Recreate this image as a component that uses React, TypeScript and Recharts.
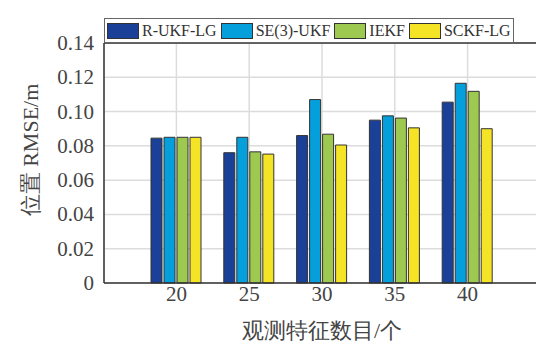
import React from "react";
import { BarChart, Bar, XAxis, YAxis, CartesianGrid, Legend, ReferenceLine } from "recharts";

const featureCounts = ["20", "25", "30", "35", "40"];
const rUkfLg = [0.0845, 0.076, 0.086, 0.095, 0.1055];
const se3Ukf = [0.085, 0.085, 0.107, 0.0975, 0.1165];
const iekf = [0.085, 0.0765, 0.0868, 0.0962, 0.1118];
const sckfLg = [0.085, 0.0752, 0.0805, 0.0905, 0.09];
const yTicks = [0, 0.02, 0.04, 0.06, 0.08, 0.1, 0.12, 0.14];

const series = [
  { key: "rukf", name: "R-UKF-LG", color: "#1b4097" },
  { key: "se3", name: "SE(3)-UKF", color: "#05a0dc" },
  { key: "iekf", name: "IEKF", color: "#9ec951" },
  { key: "sckf", name: "SCKF-LG", color: "#f5e426" },
];

const data = featureCounts.map((n, i) => ({
  n,
  rukf: rUkfLg[i],
  se3: se3Ukf[i],
  iekf: iekf[i],
  sckf: sckfLg[i],
}));

const FONT = "Liberation Serif, serif";
const TEXT = "#444";

function LegendBox() {
  return (
    <div
      style={{
        display: "flex",
        alignItems: "center",
        height: 23,
        padding: "0 0 0 2px",
        width: 406,
        background: "#fff",
        border: "1px solid #666",
        fontFamily: FONT,
        fontSize: 16,
        color: "#333",
        whiteSpace: "nowrap",
      }}
    >
      {series.map((s) => (
        <div key={s.key} style={{ display: "flex", alignItems: "center", marginRight: 4 }}>
          <span
            style={{
              display: "inline-block",
              width: 30,
              height: 14,
              background: s.color,
              border: "1px solid #333",
              marginRight: 3,
            }}
          />
          <span>{s.name}</span>
        </div>
      ))}
    </div>
  );
}

// axis tick text drawn directly so the size/font stick
function XTick({ x, y, payload }: any) {
  return (
    <text
      x={x}
      y={y + 3}
      textAnchor="middle"
      dominantBaseline="central"
      style={{ fontFamily: FONT, fontSize: 21, fill: TEXT }}
    >
      {payload.value}
    </text>
  );
}

function YTick({ x, y, payload }: any) {
  const v = payload.value as number;
  return (
    <text
      x={x - 2}
      y={y}
      textAnchor="end"
      dominantBaseline="central"
      style={{ fontFamily: FONT, fontSize: 21, fill: TEXT }}
    >
      {v === 0 ? "0" : v.toFixed(2)}
    </text>
  );
}

function YLabel() {
  return (
    <text
      x={30}
      y={150}
      transform="rotate(-90 30 150)"
      textAnchor="middle"
      dominantBaseline="central"
      style={{ fontFamily: FONT, fontSize: 22, fill: TEXT }}
    >
      位置 RMSE/m
    </text>
  );
}

function XLabel() {
  return (
    <text
      x={322}
      y={330}
      textAnchor="middle"
      dominantBaseline="central"
      style={{ fontFamily: FONT, fontSize: 22, fill: TEXT }}
    >
      观测特征数目/个
    </text>
  );
}

export default function App() {
  return (
    <div
      style={{
        position: "fixed",
        left: 0,
        top: 0,
        width: 536,
        height: 345,
        overflow: "hidden",
        background: "#fff",
        fontFamily: FONT,
      }}
    >
      <BarChart
        width={560}
        height={345}
        data={data}
        margin={{ top: 18, right: 20, bottom: 0, left: 0 }}
        barSize={11}
        barGap={2}
      >
        <CartesianGrid stroke="#dcdcdc" strokeWidth={1.5} />
        <XAxis
          dataKey="n"
          height={62}
          padding={{ left: 36, right: 36 }}
          tickLine={false}
          axisLine={{ stroke: "#333", strokeWidth: 1.5 }}
          tick={<XTick />}
          label={<XLabel />}
        />
        <YAxis
          width={104}
          domain={[0, 0.14]}
          ticks={yTicks}
          tickLine={false}
          axisLine={{ stroke: "#333", strokeWidth: 1.5 }}
          tick={<YTick />}
          label={<YLabel />}
        />
        <ReferenceLine y={0.14} stroke="#333" strokeWidth={1.5} />
        <Legend
          content={<LegendBox />}
          verticalAlign="top"
          wrapperStyle={{ position: "absolute", top: 18, left: 104, width: "auto" }}
        />
        {series.map((s) => (
          <Bar
            key={s.key}
            dataKey={s.key}
            name={s.name}
            fill={s.color}
            stroke="#333"
            strokeWidth={1}
            isAnimationActive={false}
          />
        ))}
      </BarChart>
    </div>
  );
}
